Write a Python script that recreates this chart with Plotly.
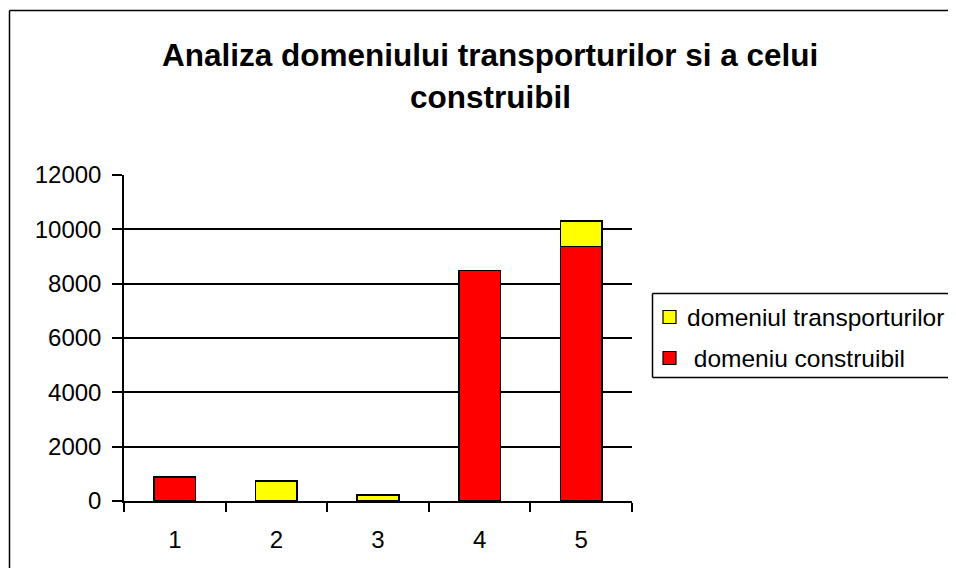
import plotly.graph_objects as go

categories = ["1", "2", "3", "4", "5"]
construibil = [890, 0, 0, 8490, 9360]
transport = [0, 740, 220, 0, 950]
series_names = ["domeniu construibil", "domeniul transporturilor"]
title_lines = ["Analiza domeniului transporturilor si a celui", "construibil"]
y_ticks = [0, 2000, 4000, 6000, 8000, 10000, 12000]
y_tick_labels = ["0", "2000", "4000", "6000", "8000", "10000", "12000"]

# the page body adds an 8px margin; work in screen pixels and shift
OFF = 8
W, H = 956 - OFF, 576 - 2 * OFF
L, R, T, B = 124 - OFF, 632 - OFF, 175 - OFF, 501 - OFF
FONT = "Liberation Sans, Arial, sans-serif"


def px(x):
    return (x - OFF - L) / (R - L)


def py(y):
    return (B - (y - OFF)) / (B - T)


def hline(x0, x1, y, w=1.5):
    return dict(type="line", xref="paper", yref="paper", x0=px(x0), x1=px(x1),
                y0=py(y), y1=py(y), line=dict(color="black", width=w))


def vline(x, y0, y1, w=1.5):
    return dict(type="line", xref="paper", yref="paper", x0=px(x), x1=px(x),
                y0=py(y0), y1=py(y1), line=dict(color="black", width=w))


fig = go.Figure()
fig.add_trace(go.Bar(x=categories, y=construibil, name=series_names[0],
                     marker=dict(color="#FF0000", line=dict(color="black", width=1.5)),
                     showlegend=False))
fig.add_trace(go.Bar(x=categories, y=transport, name=series_names[1],
                     marker=dict(color="#FFFF00", line=dict(color="black", width=1.5)),
                     showlegend=False))

shapes = [
    # outer chart frame (only left/top visible)
    hline(9.5, 954, 10.5),
    vline(9.5, 10.5, 568),
    # legend box (open to the right, cut by the page edge)
    hline(652.5, 954, 293.5),
    hline(652.5, 954, 377.5),
    vline(652.5, 293.5, 377.5),
    # legend swatches
    dict(type="rect", xref="paper", yref="paper", x0=px(663), x1=px(676), y0=py(310.5), y1=py(323.5),
         line=dict(color="black", width=1.2), fillcolor="#FFFF00"),
    dict(type="rect", xref="paper", yref="paper", x0=px(663), x1=px(676), y0=py(351.5), y1=py(364.5),
         line=dict(color="black", width=1.2), fillcolor="#FF0000"),
]

annotations = [
    dict(text="<b>" + title_lines[0] + "</b>", xref="paper", yref="paper",
         x=px(490), y=py(55), xanchor="center", yanchor="middle", showarrow=False,
         font=dict(family=FONT, size=31.5, color="black")),
    dict(text="<b>" + title_lines[1] + "</b>", xref="paper", yref="paper",
         x=px(490), y=py(97), xanchor="center", yanchor="middle", showarrow=False,
         font=dict(family=FONT, size=31.5, color="black")),
    dict(text=series_names[1], xref="paper", yref="paper", x=px(685), y=py(317),
         xanchor="left", yanchor="middle", showarrow=False,
         font=dict(family=FONT, size=24.5, color="black")),
    dict(text=" " + series_names[0], xref="paper", yref="paper", x=px(685), y=py(358),
         xanchor="left", yanchor="middle", showarrow=False,
         font=dict(family=FONT, size=24.5, color="black")),
]

fig.update_layout(
    width=W, height=H,
    margin=dict(l=L, r=W - R, t=T, b=H - B, pad=0),
    barmode="stack", bargap=0.59,
    paper_bgcolor="white", plot_bgcolor="white",
    font=dict(family=FONT, size=24, color="black"),
    shapes=shapes, annotations=annotations,
    showlegend=False,
)
fig.update_xaxes(type="category", tickson="boundaries", ticks="outside", ticklen=9,
                 tickwidth=1.5, tickcolor="black", showline=True, linecolor="black",
                 linewidth=1.5, showgrid=False, ticklabelstandoff=16,
                 tickfont=dict(family=FONT, size=24, color="black"))
fig.update_yaxes(range=[0, 12000], tickvals=y_ticks, ticktext=y_tick_labels,
                 ticks="outside", ticklen=10,
                 tickwidth=1.5, tickcolor="black", showline=True, linecolor="black",
                 linewidth=1.5, showgrid=True, gridcolor="black", gridwidth=1.5,
                 zeroline=False, ticklabelstandoff=6,
                 tickfont=dict(family=FONT, size=24, color="black"))

fig.write_html("out.html")
